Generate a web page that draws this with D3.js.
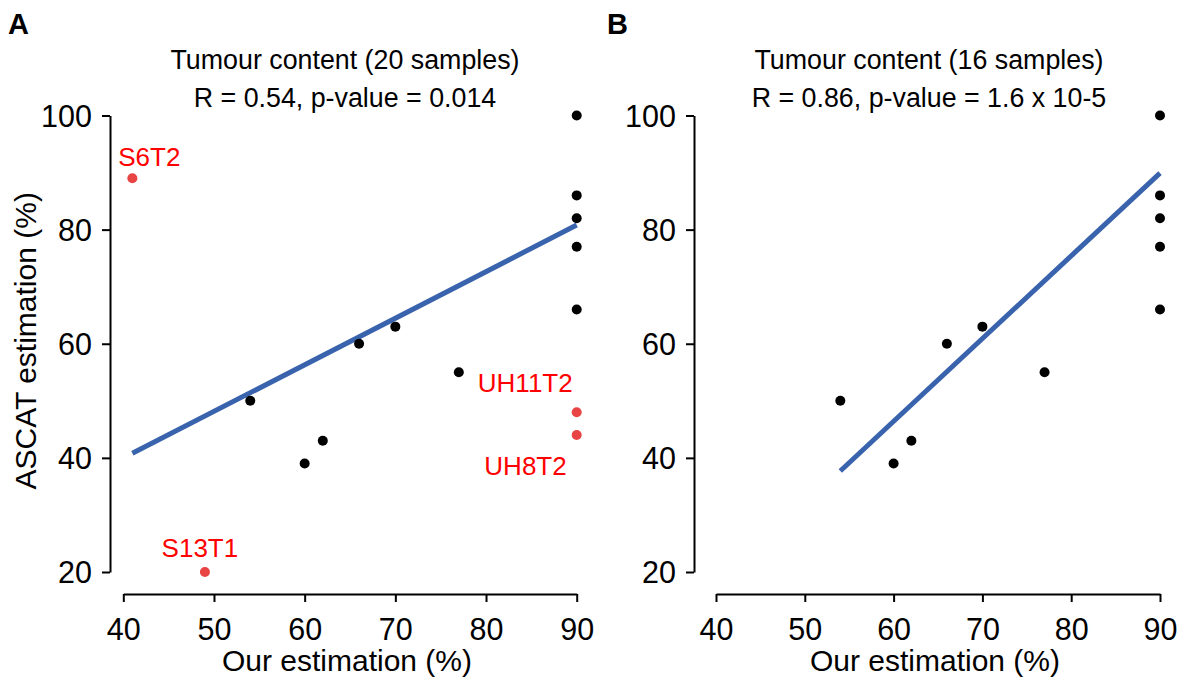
<!DOCTYPE html>
<html>
<head>
<meta charset="utf-8">
<script src="https://cdn.jsdelivr.net/npm/d3@7"></script>
<style>
  html, body { margin: 0; padding: 0; background: #fff; }
  svg { display: block; font-family: "Liberation Sans", Arial, sans-serif; }
</style>
</head>
<body>
<svg id="chart" width="1185" height="679"></svg>
<script>
// ---------- data ----------
const xTicks = [40, 50, 60, 70, 80, 90];
const yTicks = [20, 40, 60, 80, 100];

// Panel A (20 samples) - black points
const aX = [90, 90, 90, 90, 90, 66, 70, 77, 54, 62, 60];
const aY = [100, 86, 82, 77, 66, 60, 63, 55, 50, 43, 39];
// Panel A outliers (red)
const aOutX = [41, 49, 90, 90];
const aOutY = [89, 20, 48, 44];
const aOutLabels = ["S6T2", "S13T1", "UH11T2", "UH8T2"];
// Panel A fit line endpoints
const aFitX = [41, 90];
const aFitY = [40.8, 80.8];

// Panel B (16 samples)
const bX = [90, 90, 90, 90, 90, 66, 70, 77, 54, 62, 60];
const bY = [100, 86, 82, 77, 66, 60, 63, 55, 50, 43, 39];
const bFitX = [54, 90];
const bFitY = [37.7, 89.9];

const titlesA = ["Tumour content (20 samples)", "R = 0.54, p-value = 0.014"];
const titlesB = ["Tumour content (16 samples)", "R = 0.86, p-value = 1.6 x 10-5"];
const xLabel = "Our estimation (%)";
const yLabel = "ASCAT estimation (%)";

// ---------- drawing ----------
const svg = d3.select("#chart");

const labelOffsets = {
  "S6T2":   { dx: 17, dy: -12, anchor: "middle" },
  "S13T1":  { dx: -5, dy: -15, anchor: "middle" },
  "UH11T2": { dx: -4, dy: -20, anchor: "end" },
  "UH8T2":  { dx: -10, dy: 40, anchor: "end" }
};

function panel(cfg) {
  const g = svg.append("g");
  const x = d3.scaleLinear().domain([40, 90]).range([cfg.x0, cfg.x1]);
  const y = d3.scaleLinear().domain([20, 100]).range([572, 115.5]);

  // panel letter
  g.append("text").attr("x", cfg.letterX).attr("y", 34)
    .attr("font-size", 29).attr("font-weight", "bold").text(cfg.letter);

  // titles
  g.append("text").attr("x", cfg.titleX).attr("y", 69).attr("text-anchor", "middle")
    .attr("font-size", 26.8).text(cfg.titles[0]);
  g.append("text").attr("x", cfg.titleX).attr("y", 107).attr("text-anchor", "middle")
    .attr("font-size", 26.8).text(cfg.titles[1]);

  // x axis
  const xa = g.append("g").attr("transform", "translate(0,594)")
    .call(d3.axisBottom(x).tickValues(xTicks).tickSize(8).tickSizeOuter(0).tickPadding(16));
  // y axis
  const ya = g.append("g").attr("transform", `translate(${cfg.yAxisX},0)`)
    .call(d3.axisLeft(y).tickValues(yTicks).tickSize(8).tickSizeOuter(0).tickPadding(10));
  [xa, ya].forEach(a => {
    a.selectAll("path, line").attr("stroke", "#000").attr("stroke-width", 2);
    a.selectAll("text").attr("font-size", 30.5).attr("fill", "#000")
      .attr("font-family", "Liberation Sans, Arial, sans-serif");
  });
  ya.selectAll("text").attr("dy", "0.36em");

  // axis labels
  g.append("text").attr("x", (cfg.x0 + cfg.x1) / 2 - 3).attr("y", 671)
    .attr("text-anchor", "middle").attr("font-size", 30).text(xLabel);
  if (cfg.showYLabel) {
    g.append("text").attr("transform", `translate(36,${(572 + 115.5) / 2 - 3}) rotate(-90)`)
      .attr("text-anchor", "middle").attr("font-size", 30).text(yLabel);
  }

  // fit line
  const line = d3.line().x(d => x(d[0])).y(d => y(d[1]));
  g.append("path").datum(d3.zip(cfg.fitX, cfg.fitY)).attr("d", line)
    .attr("stroke", "#3a63ad").attr("stroke-width", 5).attr("fill", "none");

  // black points
  g.selectAll("circle.pt").data(d3.zip(cfg.px, cfg.py)).join("circle")
    .attr("class", "pt").attr("cx", d => x(d[0])).attr("cy", d => y(d[1]))
    .attr("r", 5).attr("fill", "#000");

  // outliers
  if (cfg.ox) {
    const od = cfg.ox.map((v, i) => ({ x: v, y: cfg.oy[i], label: cfg.olabels[i] }));
    g.selectAll("circle.out").data(od).join("circle")
      .attr("class", "out").attr("cx", d => x(d.x)).attr("cy", d => y(d.y))
      .attr("r", 5).attr("fill", "#e84444");
    g.selectAll("text.out").data(od).join("text")
      .attr("class", "out")
      .attr("x", d => x(d.x) + labelOffsets[d.label].dx)
      .attr("y", d => y(d.y) + labelOffsets[d.label].dy)
      .attr("text-anchor", d => labelOffsets[d.label].anchor)
      .attr("font-size", 26).attr("fill", "#ff0000").text(d => d.label);
  }
}

panel({
  letter: "A", letterX: 8, titleX: 345, titles: titlesA,
  x0: 123.3, x1: 576.7, yAxisX: 110, showYLabel: true,
  px: aX, py: aY, fitX: aFitX, fitY: aFitY,
  ox: aOutX, oy: aOutY, olabels: aOutLabels
});
panel({
  letter: "B", letterX: 607, titleX: 929, titles: titlesB,
  x0: 716, x1: 1160, yAxisX: 694, showYLabel: false,
  px: bX, py: bY, fitX: bFitX, fitY: bFitY
});
</script>
</body>
</html>
